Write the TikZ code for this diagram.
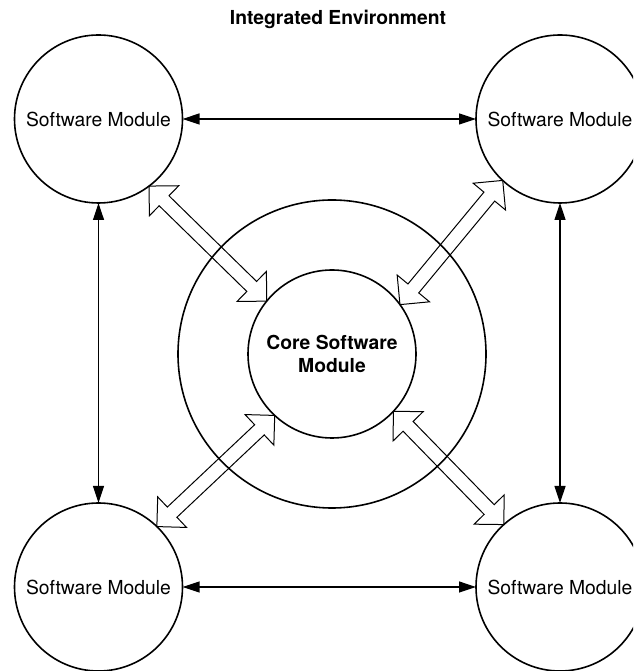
\documentclass[tikz,border=0pt]{standalone}
\usepackage{fontspec}
\setmainfont{TeX Gyre Heros}
\usetikzlibrary{arrows.meta,calc}

% double-headed hollow (outline) arrow between two named points
\newcommand\twowayarrow[2]{%
  \draw[hollowarrow] (#1)
    -- ($(#1)!21pt!(#2)!21pt!90:(#2)$)
    -- ($(#1)!21pt!(#2)!7pt!90:(#2)$)
    -- ($(#2)!21pt!(#1)!7pt!-90:(#1)$)
    -- ($(#2)!21pt!(#1)!21pt!-90:(#1)$)
    -- (#2)
    -- ($(#2)!21pt!(#1)!21pt!90:(#1)$)
    -- ($(#2)!21pt!(#1)!7pt!90:(#1)$)
    -- ($(#1)!21pt!(#2)!7pt!-90:(#2)$)
    -- ($(#1)!21pt!(#2)!21pt!-90:(#2)$)
    -- cycle;}

\tikzset{
  x=1pt, y=1pt,
  labelfont/.style={font=\fontsize{19.3}{23.2}\selectfont},
  module/.style={circle, draw, line width=1.6pt, minimum size=168pt,
    inner sep=0pt, outer sep=0pt, labelfont},
  coremodule/.style={module, align=center, font=\fontsize{19.3}{23.2}\selectfont\bfseries},
  envring/.style={circle, draw, line width=1.6pt, minimum size=308pt,
    inner sep=0pt, outer sep=0pt},
  heading/.style={anchor=base, inner sep=0pt, font=\fontsize{19.3}{23.2}\selectfont\bfseries},
  link/.style={line width=1.2pt, >={Triangle[length=17pt,width=11pt]}, <->},
  hollowarrow/.style={line width=1pt, line join=miter},
}

\begin{document}
\begin{tikzpicture}
  \clip (0,0) rectangle (633,671);
  \fill[white] (0,0) rectangle (633,671);

  % title
  \node[heading] (title) at (338,646) {Integrated Environment};

  % environment ring and core
  \node[envring] (env) at (332,317) {};
  \node[coremodule] (core) at (332,317) {Core Software\\Module};

  % surrounding software modules
  \node[module] (tl) at (98.5,552) {Software Module};
  \node[module] (tr) at (560,552) {Software Module};
  \node[module] (bl) at (98.5,84) {Software Module};
  \node[module] (br) at (560,84) {Software Module};

  % links between the modules
  \draw[link] (tl) -- (tr);
  \draw[link] (bl) -- (br);
  \draw[link] (tl) -- (bl);
  \draw[link] (tr) -- (br);

  % ends of the links to the core
  \coordinate (tlend)  at (tl.-53);
  \coordinate (tlcore) at (core.141);
  \coordinate (trend)  at (tr.-133);
  \coordinate (trcore) at (core.36.5);
  \coordinate (blend)  at (bl.46);
  \coordinate (blcore) at (core.-133);
  \coordinate (brend)  at (br.132.4);
  \coordinate (brcore) at (core.-43.3);

  \twowayarrow{tlend}{tlcore}
  \twowayarrow{trend}{trcore}
  \twowayarrow{blend}{blcore}
  \twowayarrow{brend}{brcore}
\end{tikzpicture}
\end{document}
